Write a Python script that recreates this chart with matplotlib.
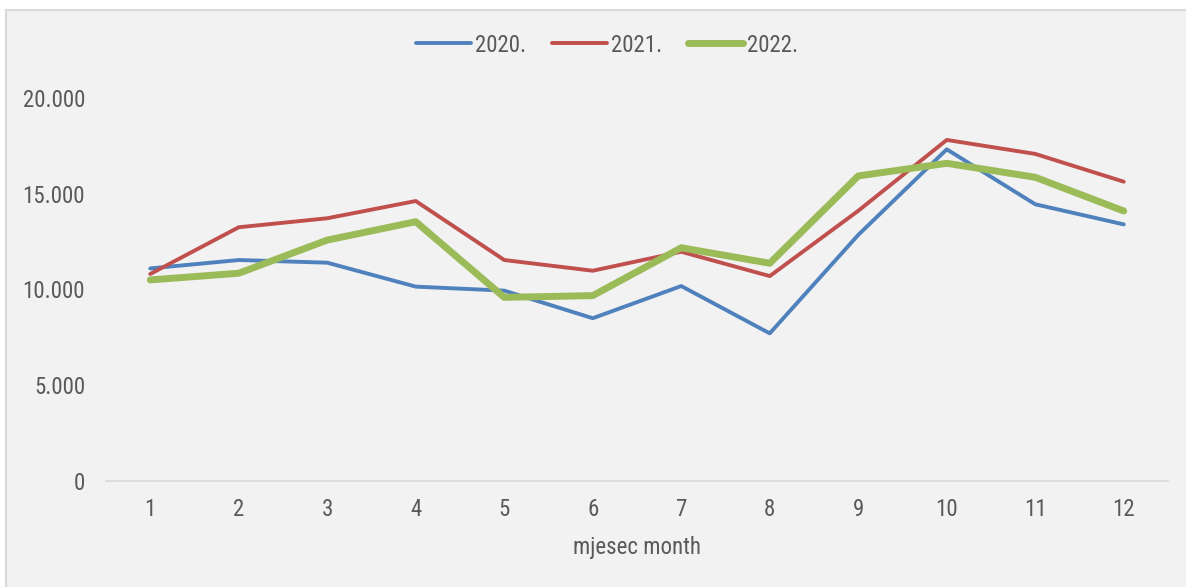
import matplotlib
matplotlib.use("Agg")
import matplotlib.pyplot as plt
from matplotlib import font_manager
from matplotlib.patches import Rectangle
from matplotlib.ticker import FuncFormatter

# data
months = [1, 2, 3, 4, 5, 6, 7, 8, 9, 10, 11, 12]
y2020 = [11100, 11540, 11400, 10150, 9940, 8500, 10180, 7710, 12850, 17320, 14450, 13400]
y2021 = [10810, 13250, 13720, 14620, 11540, 10980, 11970, 10700, 14110, 17810, 17080, 15630]
y2022 = [10500, 10850, 12580, 13540, 9590, 9680, 12180, 11370, 15930, 16590, 15860, 14100]
labels = ["2020.", "2021.", "2022."]
yticks = [0, 5000, 10000, 15000, 20000]

# narrow font if there is one, else plain Arial-like
names = {f.name for f in font_manager.fontManager.ttflist}
fs = 14.5
family = "Liberation Sans"
for cand in ["Liberation Sans Narrow", "Arial Narrow", "Roboto Condensed"]:
    if cand in names:
        family = cand
        fs = 16.5
        break
plt.rcParams["font.family"] = [family, "DejaVu Sans"]
txt = "#595959"

W, H = 1186, 587
fig = plt.figure(figsize=(W / 100, H / 100), dpi=100)
fig.patch.set_facecolor("white")
# gray chart frame
fig.patches.append(Rectangle((6 / W, -0.05), 1.2, 1 - 10 / H + 0.05,
                             transform=fig.transFigure, facecolor="#f2f2f2",
                             edgecolor="#d9d9d9", linewidth=1.5, zorder=-5))

ax = fig.add_axes([106 / W, 1 - 481 / H, (1168 - 106) / W, (481 - 98) / H])
ax.set_facecolor("none")
ax.set_zorder(2)

ax.plot(months, y2020, color="#4f81bd", lw=2.8, label=labels[0], solid_capstyle="round")
ax.plot(months, y2021, color="#c0504d", lw=2.8, label=labels[1], solid_capstyle="round")
ax.plot(months, y2022, color="#9bbb59", lw=5.0, label=labels[2], solid_capstyle="round")

ax.set_xlim(0.5, 12.5)
ax.set_ylim(0, 20000)
ax.set_xticks(months)
ax.set_yticks(yticks)
ax.yaxis.set_major_formatter(FuncFormatter(lambda v, p: f"{int(v):,}".replace(",", ".")))
ax.tick_params(length=0, labelsize=fs, colors=txt)
ax.tick_params(axis="y", pad=15)
ax.tick_params(axis="x", pad=12)
for s in ["top", "right", "left"]:
    ax.spines[s].set_visible(False)
ax.spines["bottom"].set_color("#d9d9d9")
ax.spines["bottom"].set_linewidth(1.2)

ax.set_xlabel("mjesec month", fontsize=fs, color=txt, labelpad=11)

leg = fig.legend(loc="center", bbox_to_anchor=(607 / W, 1 - 45 / H), ncol=3,
                 frameon=False, fontsize=fs, handlelength=2.4, handletextpad=0.2,
                 columnspacing=1.1)
for t in leg.get_texts():
    t.set_color(txt)

fig.savefig("out.png", dpi=100)
